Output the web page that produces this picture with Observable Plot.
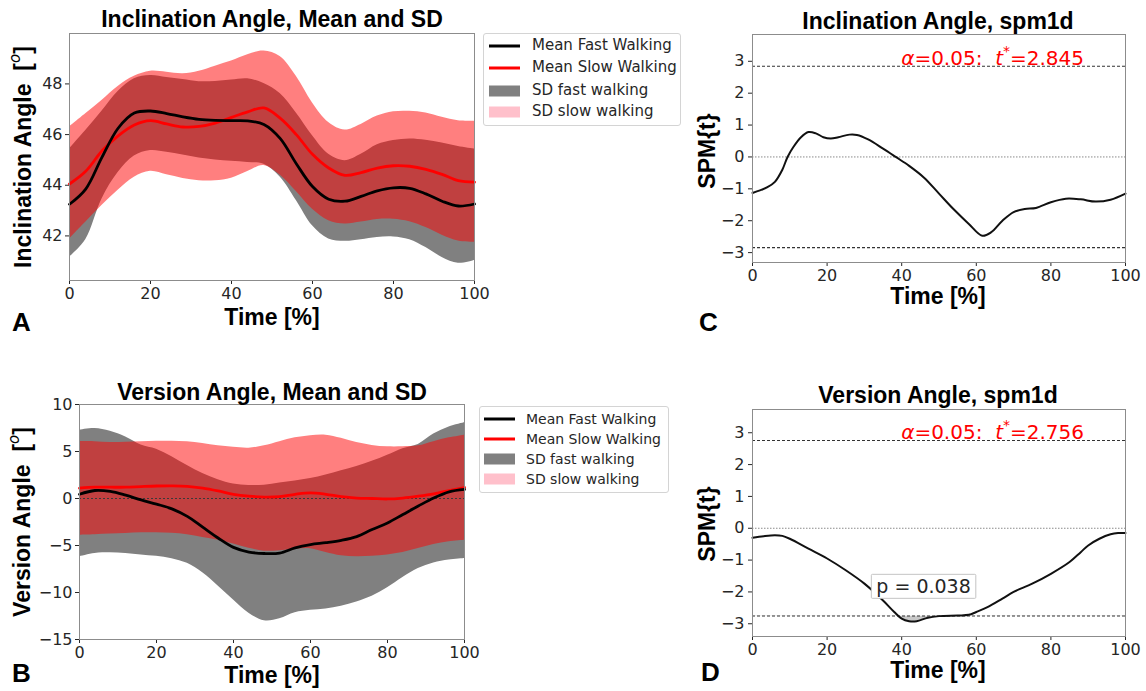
<!DOCTYPE html>
<html><head><meta charset="utf-8">
<script src="https://cdn.jsdelivr.net/npm/d3@7"></script>
<script src="https://cdn.jsdelivr.net/npm/@observablehq/plot@0.6"></script>
<style>
body{margin:0;background:#fff;}
#wrap{position:relative;width:1146px;height:691px;overflow:hidden;font-family:"DejaVu Sans",sans-serif;background:#fff;}
#wrap > svg, #wrap > div {position:absolute;}
.legend{border:1px solid #d4d4d4;border-radius:3px;background:#fff;color:#262626;box-sizing:border-box;}
.legend .row{position:absolute;left:0;height:0;white-space:nowrap;}
.legend .sw{position:absolute;transform:translateY(-50%);}
.legend .lb{position:absolute;transform:translateY(-52%);line-height:1;}
</style></head><body><div id="wrap"></div>
<script>
// ---------- data ----------
const time = [0,4,8,12,16,20,24,28,32,36,40,44,48,52,56,60,64,68,72,76,80,84,88,92,96,100];
const xTicks = [0,20,40,60,80,100];

// Panel A: inclination angle (deg)
const inclFastMean  = [43.25,43.85,45.1,46.25,46.85,46.93,46.83,46.7,46.6,46.56,46.55,46.54,46.4,45.85,44.85,43.95,43.45,43.37,43.56,43.78,43.9,43.88,43.66,43.37,43.18,43.26];
const inclSlowMean  = [44.05,44.55,45.35,45.95,46.38,46.55,46.42,46.3,46.32,46.45,46.68,46.9,47.05,46.65,46.0,45.22,44.68,44.39,44.5,44.68,44.77,44.75,44.63,44.43,44.18,44.12];
const inclFastUpper = [45.43,46.16,46.92,47.7,48.2,48.33,48.25,48.17,48.09,48.1,48.15,48.2,48.02,47.62,46.85,45.95,45.22,44.97,45.22,45.6,45.77,45.83,45.78,45.67,45.53,45.43];
const inclFastLower = [41.16,41.85,43.45,44.5,45.15,45.37,45.3,45.19,45.08,45.0,44.95,44.9,44.83,44.33,43.4,42.4,41.88,41.79,41.85,41.94,41.96,41.85,41.54,41.15,40.92,41.03];
const inclSlowUpper = [46.3,46.82,47.35,47.9,48.3,48.5,48.46,48.4,48.5,48.7,48.9,49.15,49.3,49.08,48.3,47.25,46.48,46.18,46.4,46.73,46.9,46.92,46.85,46.68,46.55,46.53];
const inclSlowLower = [41.88,42.54,43.2,43.8,44.32,44.55,44.41,44.27,44.18,44.18,44.28,44.54,44.78,44.4,43.75,43.05,42.6,42.47,42.55,42.65,42.66,42.56,42.33,42.03,41.8,41.75];
const inclTicks = [42,44,46,48];

// Panel B: version angle (deg)
const versFastMean  = [0.45,0.85,0.75,0.35,-0.15,-0.6,-1.1,-1.9,-3.05,-4.2,-5.2,-5.7,-5.85,-5.8,-5.25,-4.9,-4.7,-4.45,-4.05,-3.3,-2.6,-1.7,-0.8,0.05,0.7,0.96];
const versSlowMean  = [1.1,1.2,1.2,1.2,1.27,1.33,1.35,1.3,1.1,0.8,0.45,0.25,0.15,0.2,0.45,0.6,0.45,0.2,0.05,0.0,-0.05,0.05,0.25,0.5,0.85,1.17];
const versFastUpper = [7.27,7.45,7.15,6.55,5.7,5.25,4.45,3.5,2.65,2.0,1.55,1.38,1.42,1.65,1.85,2.12,2.5,2.95,3.4,3.95,4.6,5.3,5.75,6.85,7.6,8.05];
const versFastLower = [-6.2,-5.85,-5.78,-5.85,-6.0,-6.15,-6.4,-6.9,-7.9,-9.3,-10.8,-12.2,-13.0,-12.8,-12.15,-11.9,-11.75,-11.45,-11.0,-10.4,-9.5,-8.4,-7.45,-6.85,-6.55,-6.38];
const versSlowUpper = [6.05,6.05,5.95,5.98,6.03,6.08,6.08,6.03,5.85,5.6,5.45,5.35,5.6,6.05,6.45,6.68,6.74,6.4,5.95,5.65,5.5,5.5,5.6,6.05,6.45,6.74];
const versSlowLower = [-3.9,-3.85,-3.78,-3.72,-3.65,-3.65,-3.7,-3.85,-4.15,-4.45,-4.85,-5.3,-5.6,-5.55,-5.4,-5.35,-5.75,-6.1,-6.2,-6.15,-6.0,-5.75,-5.32,-4.9,-4.6,-4.43];
const versTicks = [-15,-10,-5,0,5,10];

// Panel C: SPM{t} inclination
const spmTimeC = [0,2,4,6,8,9.4,11,13,15,17,19,21,23,26,28,31,35,38.4,42,46,50,54,58,61.6,64,67,70,73,76,80,84,88,92,96,100];
const spmC     = [-1.13,-1.05,-0.95,-0.78,-0.4,0,0.32,0.62,0.78,0.74,0.62,0.58,0.62,0.7,0.69,0.55,0.26,0,-0.28,-0.65,-1.15,-1.65,-2.1,-2.47,-2.36,-2.0,-1.73,-1.63,-1.6,-1.42,-1.31,-1.33,-1.4,-1.34,-1.15];
const tStarC = 2.845;

// Panel D: SPM{t} version
const spmTimeD = [0,3,6,8,10,15,20,25,30,35,38,40,42,44,47,50,55,58,60,63,67,70,75,80,85,88,90,93,96,98,100];
const spmD     = [-0.3,-0.25,-0.22,-0.24,-0.33,-0.64,-0.95,-1.32,-1.74,-2.27,-2.63,-2.84,-2.92,-2.92,-2.81,-2.76,-2.74,-2.72,-2.63,-2.48,-2.21,-2.0,-1.74,-1.43,-1.06,-0.75,-0.54,-0.33,-0.19,-0.15,-0.15];
const tStarD = 2.756;
const spmTicks = [-3,-2,-1,0,1,2,3];

// annotation anchors (data units)
const alphaLabelX = 40;
const pLabel = {x: 46, y: -1.84, text: "p = 0.038"};

const legendItems = ["Mean Fast Walking","Mean Slow Walking","SD fast walking","SD slow walking"];

// ---------- drawing ----------
const wrap = document.getElementById("wrap");
const fmt = d3.format("d");
const baseStyle = {fontFamily:"'DejaVu Sans', sans-serif", fontSize:"16px", color:"#262626", background:"transparent", overflow:"visible"};
const NB = "\u00a0";

function place(el, left, top){ el.style.position="absolute"; el.style.left=left+"px"; el.style.top=top+"px"; wrap.appendChild(el); return el; }

function bandPanel(cfg){
  const rows = time.map((t,i)=>({t, fm:cfg.fm[i], sm:cfg.sm[i], fu:cfg.fu[i], fl:cfg.fl[i], su:cfg.su[i], sl:cfg.sl[i]}));
  const marks = [
    Plot.areaY(rows,{x:"t", y1:"fl", y2:"fu", fill:"#808080", curve:"catmull-rom"}),
    Plot.areaY(rows,{x:"t", y1:"sl", y2:"su", fill:"#ff0000", fillOpacity:0.5, curve:"catmull-rom"})
  ];
  if (cfg.zero) marks.push(Plot.ruleY([0],{stroke:"#3a3a3a", strokeDasharray:"2,2", strokeWidth:1}));
  marks.push(
    Plot.lineY(rows,{x:"t", y:"sm", stroke:"#ff0000", strokeWidth:2.8, curve:"catmull-rom"}),
    Plot.lineY(rows,{x:"t", y:"fm", stroke:"#000", strokeWidth:2.8, curve:"catmull-rom"}),
    Plot.frame({stroke:"#8c8c8c"})
  );
  return Plot.plot({
    width:cfg.w, height:cfg.h, marginLeft:cfg.ml, marginRight:cfg.mr, marginTop:cfg.mt, marginBottom:cfg.mb,
    style:baseStyle,
    x:{domain:[0,100], ticks:xTicks, tickSize:4, tickPadding:3, label:null, tickFormat:fmt},
    y:{domain:cfg.domain, ticks:cfg.ticks, tickSize:4, tickPadding:3, label:null, tickFormat:fmt},
    marks
  });
}

function spmPanel(cfg){
  const rows = cfg.t.map((t,i)=>({t, v:cfg.v[i]}));
  const marks = [];
  if (cfg.shade){
    marks.push(Plot.areaY(rows,{x:"t", y1:"v", y2:()=>-cfg.thr, fill:"#c8c8c8", curve:"catmull-rom"}));
    marks.push(Plot.areaY(rows,{x:"t", y1:()=>-cfg.thr, y2:()=>cfg.domain[1], fill:"#fff", curve:"linear"}));
  }
  marks.push(
    Plot.ruleY([0],{stroke:"#8a8a8a", strokeDasharray:"1.5,1.5", strokeWidth:1}),
    Plot.ruleY([cfg.thr,-cfg.thr],{stroke:"#333", strokeDasharray:"3,2", strokeWidth:1.2}),
    Plot.lineY(rows,{x:"t", y:"v", stroke:"#111", strokeWidth:2, curve:"catmull-rom"}),
    Plot.frame({stroke:"#8c8c8c"})
  );
  return Plot.plot({
    width:cfg.w, height:cfg.h, marginLeft:cfg.ml, marginRight:cfg.mr, marginTop:cfg.mt, marginBottom:cfg.mb,
    style:baseStyle,
    x:{domain:[0,100], ticks:xTicks, tickSize:4, tickPadding:3, label:null, tickFormat:fmt},
    y:{domain:cfg.domain, ticks:spmTicks, tickSize:4, tickPadding:4, label:null, tickFormat:fmt},
    marks
  });
}

const pA = place(bandPanel({fm:inclFastMean, sm:inclSlowMean, fu:inclFastUpper, fl:inclFastLower, su:inclSlowUpper, sl:inclSlowLower,
  domain:[40.24,49.99], ticks:inclTicks, w:480, h:310, ml:69, mr:6, mt:33, mb:30}), 0, 0);
const pB = place(bandPanel({fm:versFastMean, sm:versSlowMean, fu:versFastUpper, fl:versFastLower, su:versSlowUpper, sl:versSlowLower, zero:true,
  domain:[-15,10], ticks:versTicks, w:480, h:300, ml:79, mr:16, mt:34, mb:31}), 0, 370);
const pC = place(spmPanel({t:spmTimeC, v:spmC, thr:tStarC, domain:[-3.31,3.84], w:456, h:300, ml:62, mr:21, mt:34, mb:38}), 690, 0);
const pD = place(spmPanel({t:spmTimeD, v:spmD, thr:tStarD, shade:true, domain:[-3.4,3.73], w:456, h:300, ml:62, mr:21, mt:39, mb:34}), 690, 370);

// ---------- legends ----------
function legend(left, top, w, h, fs, rowsY, swLeft, txtLeft){
  const d = document.createElement("div");
  d.className = "legend";
  d.style.width = w+"px"; d.style.height = h+"px"; d.style.fontSize = fs+"px";
  const sw = [
    {type:"line", color:"#000"}, {type:"line", color:"#ff0000"},
    {type:"patch", color:"#808080"}, {type:"patch", color:"pink"}
  ];
  legendItems.forEach((lab,i)=>{
    const r = document.createElement("div"); r.className="row"; r.style.top = rowsY[i]+"px";
    const s = document.createElement("div"); s.className="sw";
    s.style.left = swLeft+"px"; s.style.width = "31px";
    s.style.height = sw[i].type==="line" ? "3px" : "11px";
    s.style.background = sw[i].color;
    const t = document.createElement("div"); t.className="lb"; t.style.left = txtLeft+"px"; t.textContent = lab;
    r.appendChild(s); r.appendChild(t); d.appendChild(r);
  });
  return place(d, left, top);
}
legend(483, 33, 198, 93, 15, [12,34,57,78], 5, 48);
legend(479, 406, 190, 87, 14, [12,32,52,72], 4, 46);

// ---------- overlay text ----------
const ov = d3.select(wrap).append("svg")
  .attr("width",1146).attr("height",691)
  .style("position","absolute").style("left","0px").style("top","0px")
  .style("overflow","visible").style("pointer-events","none");

const boldFont = "'Liberation Sans', Arial, sans-serif";
function bold(x,y,str,size,anchor){
  return ov.append("text").attr("x",x).attr("y",y).attr("text-anchor",anchor||"middle")
    .attr("font-family",boldFont).attr("font-weight","bold").attr("font-size",size).attr("fill","#000").text(str);
}
// titles
bold(272, 27, "Inclination Angle, Mean and SD", 23);
bold(272, 400, "Version Angle, Mean and SD", 23);
bold(938, 29, "Inclination Angle, spm1d", 23);
bold(938, 403, "Version Angle, spm1d", 23);
// x labels
bold(272, 325, "Time [%]", 23);
bold(272, 683, "Time [%]", 23);
bold(938, 304, "Time [%]", 23);
bold(938, 678, "Time [%]", 23);
// panel letters
bold(12, 331, "A", 26, "start");
bold(12, 682, "B", 26, "start");
bold(699, 331, "C", 26, "start");
bold(701, 681, "D", 26, "start");

function ylab(cx, cy, main, deg){
  const t = ov.append("text").attr("transform",`translate(${cx},${cy}) rotate(-90)`)
    .attr("text-anchor","middle").attr("dominant-baseline","central")
    .attr("font-family",boldFont).attr("font-weight","bold").attr("font-size",23).attr("fill","#000");
  t.append("tspan").text(main);
  if (deg){
    t.append("tspan").text(NB+NB+"[");
    t.append("tspan").attr("dy",-8).attr("font-size",15).attr("font-weight","normal").attr("font-style","italic")
      .attr("font-family","'DejaVu Sans', sans-serif").text("o");
    t.append("tspan").attr("dy",8).text("]");
  }
}
ylab(23, 157, "Inclination Angle", true);
ylab(22, 522, "Version Angle", true);
ylab(707, 151, "SPM{t}", false);
ylab(707, 524, "SPM{t}", false);

// threshold labels, positioned through the plots' scales
function alphaLabel(plot, left, top, thr){
  const x = left + plot.scale("x").apply(alphaLabelX);
  const y = top + plot.scale("y").apply(thr) - 1;
  const t = ov.append("text").attr("x",x).attr("y",y).attr("fill","#ff0000")
    .attr("font-family","'DejaVu Sans', sans-serif").attr("font-size",20);
  t.append("tspan").attr("font-style","italic").text("α");
  t.append("tspan").text("=0.05:"+NB+NB);
  t.append("tspan").attr("font-style","italic").text("t");
  t.append("tspan").attr("dy",-9).attr("font-size",14).text("*");
  t.append("tspan").attr("dy",9).text("="+thr.toFixed(3));
}
alphaLabel(pC, 690, 0, tStarC);
alphaLabel(pD, 690, 370, tStarD);

// p-value box
{
  const g = ov.append("g");
  const x = 690 + pD.scale("x").apply(pLabel.x);
  const y = 370 + pD.scale("y").apply(pLabel.y);
  const t = g.append("text").attr("x",x).attr("y",y).attr("text-anchor","middle").attr("dominant-baseline","central")
    .attr("font-family","'DejaVu Sans', sans-serif").attr("font-size",19).attr("fill","#262626").text(pLabel.text);
  const bb = t.node().getBBox();
  g.insert("rect","text").attr("x",bb.x-5).attr("y",bb.y-1).attr("width",bb.width+10).attr("height",bb.height+2)
    .attr("fill","#fff").attr("stroke","#c4c4c4").attr("stroke-width",1).attr("rx",1);
}
</script></body></html>
